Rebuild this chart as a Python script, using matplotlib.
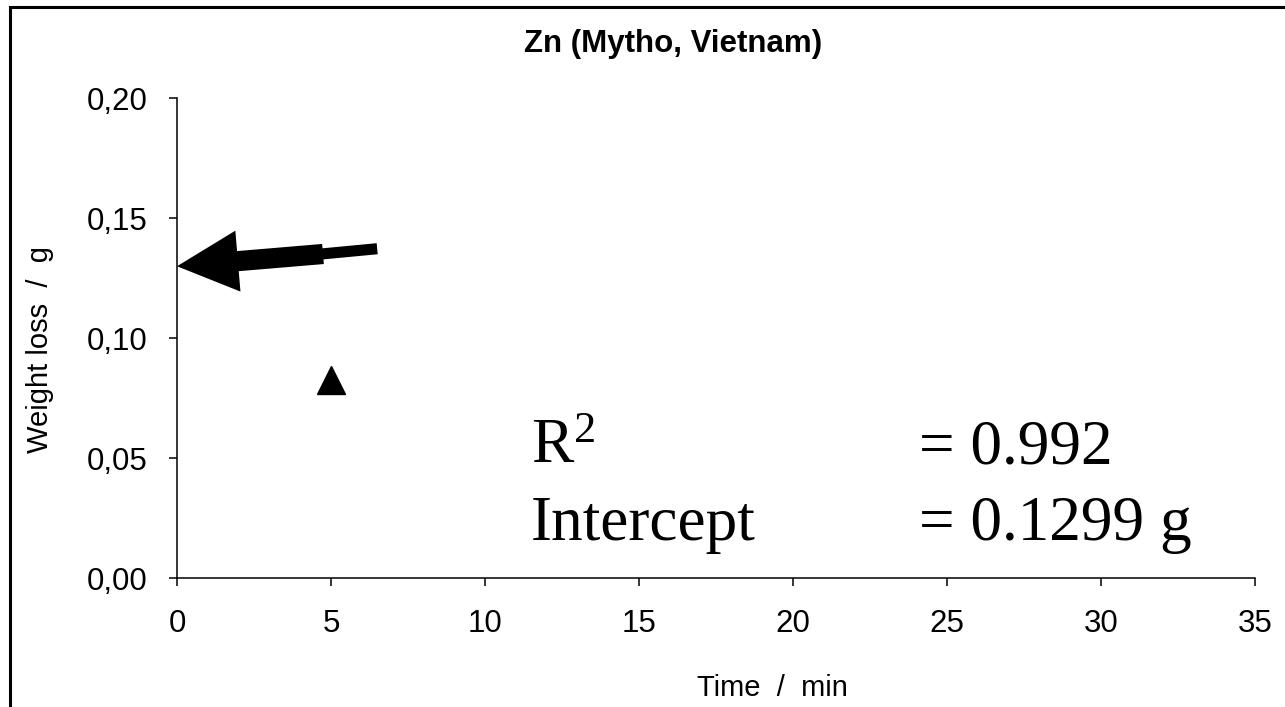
import numpy as np
import matplotlib
matplotlib.use("Agg")
import matplotlib.pyplot as plt
from matplotlib.patches import Rectangle
from matplotlib.ticker import FuncFormatter

plt.rcParams['font.family'] = ['Liberation Sans', 'DejaVu Sans']
plt.rcParams['mathtext.fontset'] = 'custom'
plt.rcParams['mathtext.rm'] = 'Liberation Serif'
plt.rcParams['mathtext.it'] = 'Liberation Serif'

# data
time_min = [5]
weight_loss = [0.0823]
intercept = 0.1299
r2 = 0.992
arrow_mid = (4.74, 0.1350)
arrow_tail = (6.5, 0.1372)
x_ticks = [0, 5, 10, 15, 20, 25, 30, 35]
y_ticks = [0.00, 0.05, 0.10, 0.15, 0.20]

fig = plt.figure(figsize=(12.85, 7.07), dpi=100)
ax = fig.add_axes([177 / 1285, 1 - 578 / 707, (1255 - 177) / 1285, (578 - 98) / 707])

ax.plot(time_min, weight_loss, linestyle='none', marker='^', markersize=20, color='black')

# arrow pointing at the intercept: thin tail + thick shaft with head
ax.annotate('', xy=(arrow_mid[0] - 0.3, arrow_mid[1] - 0.0003), xytext=arrow_tail,
            arrowprops=dict(arrowstyle='-', lw=8.0, color='black', capstyle='butt',
                            shrinkA=0, shrinkB=0))
ax.annotate('', xy=(0, intercept), xytext=arrow_mid,
            arrowprops=dict(arrowstyle='simple,head_length=1.0,head_width=1.0,tail_width=0.33',
                            mutation_scale=44, color='black', lw=0,
                            shrinkA=0, shrinkB=0))

serif = 'Liberation Serif'
ax.text(11.5, 0.0479, r'R$^\mathrm{2}$', fontsize=45.5, family=serif, va='baseline')
ax.text(24.1, 0.0479, '= %.3f' % r2, fontsize=45.5, family=serif, va='baseline')
ax.text(11.5, 0.0158, 'Intercept', fontsize=45.5, family=serif, va='baseline')
ax.text(24.1, 0.0158, '= %.4f g' % intercept, fontsize=45.5, family=serif, va='baseline')

ax.set_xlim(0, 35)
ax.set_ylim(0, 0.20)
ax.set_xticks(x_ticks)
ax.set_yticks(y_ticks)
ax.yaxis.set_major_formatter(FuncFormatter(lambda v, p: ('%.2f' % v).replace('.', ',')))
ax.spines['top'].set_visible(False)
ax.spines['right'].set_visible(False)
for s in ('left', 'bottom'):
    ax.spines[s].set_linewidth(1.1)
ax.tick_params(direction='out', length=6, width=1.1, labelsize=22.5)
ax.tick_params(axis='x', pad=16)
ax.tick_params(axis='y', pad=15)

fig.text(673 / 1285, 1 - 44 / 707, 'Zn (Mytho, Vietnam)', fontsize=22.5,
         fontweight='bold', ha='center', va='center')
fig.text(772 / 1285, 1 - 688 / 707, 'Time  /  min', fontsize=21, ha='center', va='center')
fig.text(40 / 1285, 1 - 349 / 707, 'Weight loss  /  g', fontsize=21,
         rotation=90, ha='center', va='center')

fig.add_artist(Rectangle((10 / 1285, -0.2), 1.2, 1.2 - 7 / 707, transform=fig.transFigure,
                         fill=False, edgecolor='black', linewidth=2.2))

fig.savefig('out.png', dpi=100)
